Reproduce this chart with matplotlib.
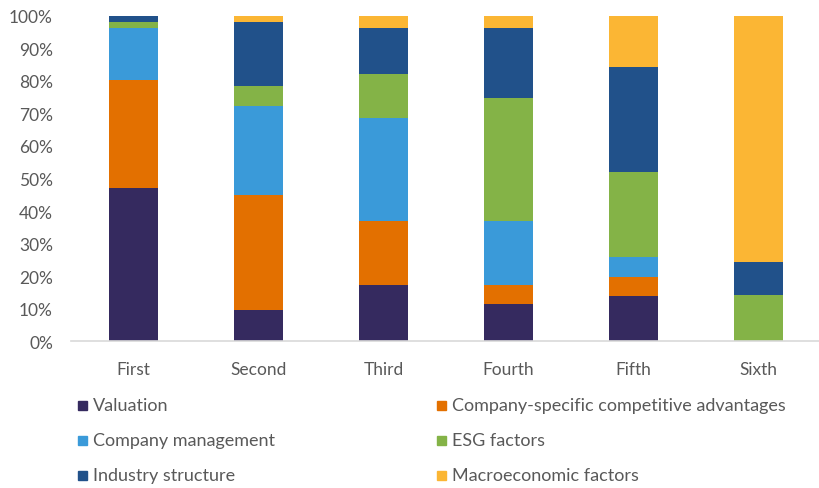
import matplotlib
matplotlib.use("Agg")
import matplotlib.pyplot as plt
from matplotlib.patches import Rectangle
import numpy as np

plt.rcParams['font.family'] = ['Lato', 'DejaVu Sans']

categories = ["First", "Second", "Third", "Fourth", "Fifth", "Sixth"]
series_names = ["Valuation", "Company-specific competitive advantages",
                "Company management", "ESG factors",
                "Industry structure", "Macroeconomic factors"]
valuation = [47.0, 9.7, 17.3, 11.5, 13.8, 0.0]
company_specific = [33.2, 35.3, 19.7, 5.8, 6.0, 0.0]
company_management = [16.0, 27.4, 31.6, 19.7, 6.1, 0.0]
esg_factors = [1.9, 5.9, 13.6, 37.6, 26.0, 14.2]
industry_structure = [1.9, 19.8, 13.9, 21.5, 32.2, 10.1]
macroeconomic = [0.0, 1.9, 3.9, 3.9, 15.9, 75.7]
yticks = [0, 10, 20, 30, 40, 50, 60, 70, 80, 90, 100]

colors = ["#352A5F", "#E37000", "#3A9AD9", "#84B347", "#21518A", "#FBB634"]
data = [valuation, company_specific, company_management, esg_factors,
        industry_structure, macroeconomic]

fig = plt.figure(figsize=(8.19, 4.89), dpi=100)
ax = fig.add_axes([71/819, (489-342.3)/489, 750/819, (342.3-16.7)/489])

x = np.arange(len(categories))
bottom = np.zeros(len(categories))
for vals, c, name in zip(data, colors, series_names):
    ax.bar(x, vals, bottom=bottom, width=0.39, color=c, label=name)
    bottom += np.array(vals)

ax.set_xlim(-0.5, len(categories) - 0.5)
ax.set_ylim(0, 100)
ax.set_yticks(yticks)
ax.set_yticklabels([f"{t}%" for t in yticks])
ax.set_xticks(x)
ax.set_xticklabels(categories)
txtc = "#595959"
ax.tick_params(axis='both', length=0, labelsize=12.5, colors=txtc)
ax.tick_params(axis='x', pad=14)
ax.tick_params(axis='y', pad=13)
for s in ["top", "right", "left"]:
    ax.spines[s].set_visible(False)
ax.spines["bottom"].set_color("#D9D9D9")
ax.spines["bottom"].set_linewidth(1.2)

# legend, laid out in two columns as in the reference
col_x = [78, 437]
row_y = [406, 441, 476]
for i, (name, c) in enumerate(zip(series_names, colors)):
    r, col = divmod(i, 2)
    px = col_x[col]
    py = row_y[r]
    fig.add_artist(Rectangle((px/819, (489 - py - 4.5)/489), 9/819, 9/489,
                             transform=fig.transFigure, color=c))
    fig.text((px + 15)/819, (489 - py)/489, name, fontsize=13, color=txtc,
             va='center', ha='left')

fig.savefig("out.png", dpi=100)
